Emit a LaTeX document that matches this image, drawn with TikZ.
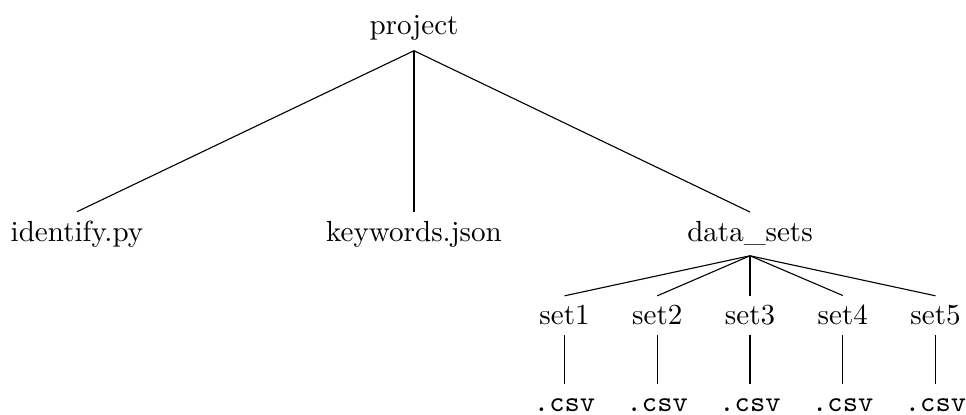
\documentclass[tikz,border=0pt]{standalone}
\usetikzlibrary{positioning}

\begin{document}
\begin{tikzpicture}
      [font=\fontsize{10.5}{12.6}\selectfont,
      % STYLES
      % The entry style is used for every file and folder name
      entry/.style={rectangle, inner sep=3.33pt, anchor=base},
      % The ext style is used for the file extensions at the bottom
      ext/.style={entry, font=\fontsize{10.5}{12.6}\ttfamily, text height=1.45ex},
      % The link style is used for the lines of the tree
      link/.style={thin}]

      \useasboundingbox (-5.254,0.444) rectangle (7.005,-4.81);

      % Draw entries
      \node [entry] (project) at (0,0) {project};
      \node [entry] (identify) at (-4.277,-2.627) {identify.py};
      \node [entry] (keywords) at (0,-2.627) {keywords.json};
      \node [entry] (dataSets) at (4.264,-2.627) {data\_sets};

      %%%%%%%%%%%%%%%
      % Sets and their files
      \foreach \i in {1,...,5} {
        \node [entry] (set\i) at ({4.264+(\i-3)*1.177},-3.68) {set\i};
        \node [ext] (csv\i) at ({4.264+(\i-3)*1.177},-4.775) {.csv};
      }

      %%%%%%%%%%%%%%%%

      % Draw the links between entries
      \path[link]
        (project.south) edge (identify.north)
        (project.south) edge (keywords.north)
        (project.south) edge (dataSets.north);
      \foreach \i in {1,...,5} {
        \draw[link] (dataSets.south) -- (set\i.north);
        \draw[link] (set\i.south) -- (csv\i.north);
      }

    \end{tikzpicture}
\end{document}
